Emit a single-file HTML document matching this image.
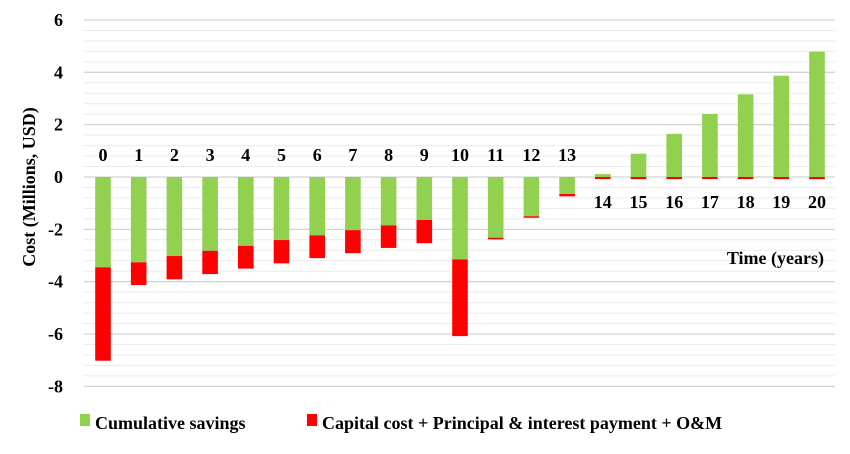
<!DOCTYPE html>
<html><head><meta charset="utf-8"><style>
body{margin:0;background:#fff;}
svg text{font-family:"Liberation Serif",serif;font-weight:bold;fill:#000;}
</style></head><body>
<svg width="850" height="449" id="chart">
<g id="grid"></g><g id="bars"></g><g id="labels"></g>
<text transform="translate(35,187) rotate(-90)" text-anchor="middle" font-size="18">Cost (Millions, USD)</text>
<text x="824" y="264" text-anchor="end" font-size="18">Time (years)</text>
<g>
<rect x="80" y="414" width="10" height="12" fill="#92d050"/>
<text x="95" y="429" font-size="18">Cumulative savings</text>
<rect x="307" y="414" width="10" height="12" fill="#ff0000"/>
<text x="322" y="429" font-size="18">Capital cost + Principal &amp; interest payment + O&amp;M</text>
</g>
</svg>
<script>
const years=[0,1,2,3,4,5,6,7,8,9,10,11,12,13,14,15,16,17,18,19,20];
const savings=[-3.45,-3.26,-3.02,-2.82,-2.63,-2.41,-2.23,-2.03,-1.85,-1.64,-3.15,-2.32,-1.50,-0.65,0.11,0.89,1.65,2.41,3.16,3.87,4.79];
const costs=[-3.57,-0.87,-0.89,-0.89,-0.87,-0.89,-0.87,-0.88,-0.86,-0.89,-2.93,-0.06,-0.05,-0.09,-0.08,-0.08,-0.08,-0.08,-0.08,-0.08,-0.08];
const yTicks=[6,4,2,0,-2,-4,-6,-8];
const NS="http://www.w3.org/2000/svg";
const y0=177,k=26.17,xL=84,xR=835;
function ys(v){return y0-v*k;}
function xs(i){return 103+i*35.7;}
function mk(t,a,p){const e=document.createElementNS(NS,t);for(const n in a)e.setAttribute(n,a[n]);p.appendChild(e);return e;}
const grid=document.getElementById('grid'),bars=document.getElementById('bars'),labels=document.getElementById('labels');
for(let v=6;v>=-8.001;v-=0.4){
  const major=Math.abs(Math.round(v/2)*2-v)<0.01;
  const l=mk('line',{x1:xL,x2:xR,y1:ys(v),y2:ys(v),stroke:major?'#d4d4d4':'#ececec','stroke-width':major?1.3:1},grid);
  
  
}
yTicks.forEach(v=>{
  const t=mk('text',{x:63,y:ys(v)+6,'text-anchor':'end','font-size':18},labels);
  t.textContent=v;
  
  
});
years.forEach((yr,i)=>{
  const s=savings[i],c=costs[i],x=xs(i)-7.8,w=15.6;
  const g=mk('rect',{x:x,y:Math.min(ys(0),ys(s)),width:w,height:Math.abs(ys(s)-ys(0)),fill:'#92d050'},bars);
  
  
  const base=s<0?s:0;
  const r=mk('rect',{x:x,y:ys(base),width:w,height:Math.max(1.5,Math.abs(c)*k),fill:'#ff0000'},bars);
  
  
  const neg=s<0;
  const t=mk('text',{x:xs(i),y:neg?161:208,'text-anchor':'middle','font-size':18},labels);
  t.textContent=yr;
  
  
});
</script>
</body></html>
